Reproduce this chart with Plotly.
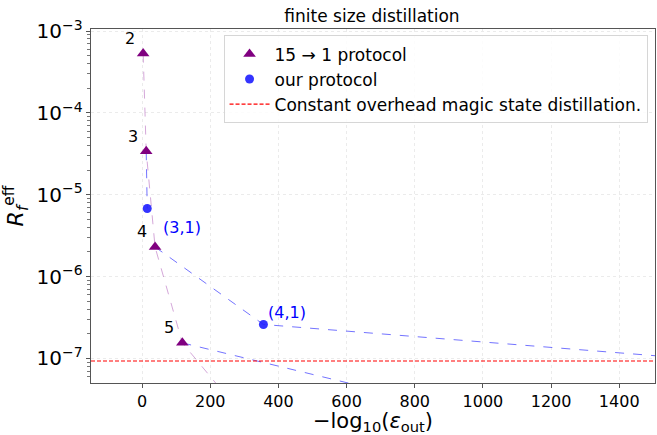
import math
import plotly.graph_objects as go

# ---- data ----
tri_levels = ["2", "3", "4", "5", "6"]
tri_x = [3, 12, 38, 118, 360]
tri_y = [5.3e-4, 3.4e-5, 2.3e-6, 1.55e-7, 9.5e-9]

our_labels = ["(3,1)", "(4,1)"]
our_x = [15, 356]
our_y = [6.8e-6, 2.6e-7]

# blue dashed connections (15->1 level  ->  our protocol -> continuation)
link_a_x = [12, 15]
link_a_y = [3.4e-5, 6.8e-6]
link_b_x = [38, 356, 2000]
link_b_y = [2.3e-6, 2.6e-7, 7.4e-8]
link_c_x = [118, 1000]
link_c_y = [1.55e-7, 2.0e-8]

const_overhead = 9.3e-8
x_range = [-150, 1505]
y_range_log = [-7.3, -2.975]

FONT = "DejaVu Sans"
PURPLE = "#800080"
BLUE = "rgba(30,30,255,0.9)"
BLUE_LINE = "rgba(40,40,255,0.65)"
PURPLE_LINE = "rgba(160,60,170,0.45)"

fig = go.Figure()

fig.add_trace(go.Scatter(x=tri_x, y=tri_y, mode="lines",
                         line=dict(color=PURPLE_LINE, width=1, dash="dash"),
                         showlegend=False, hoverinfo="skip"))
for lx, ly in [(link_a_x, link_a_y), (link_b_x, link_b_y), (link_c_x, link_c_y)]:
    fig.add_trace(go.Scatter(x=lx, y=ly, mode="lines",
                             line=dict(color=BLUE_LINE, width=1, dash="dash"),
                             showlegend=False, hoverinfo="skip"))

fig.add_trace(go.Scatter(x=tri_x, y=tri_y, mode="markers", name="15 → 1 protocol",
                         marker=dict(symbol="triangle-up", size=11, color=PURPLE)))
fig.add_trace(go.Scatter(x=our_x, y=our_y, mode="markers", name="our protocol",
                         marker=dict(symbol="circle", size=9, color=BLUE)))
fig.add_trace(go.Scatter(x=x_range, y=[const_overhead, const_overhead], mode="lines",
                         name="Constant overhead magic state distillation.",
                         line=dict(color="red", width=1.2, dash="4px,2px")))

annotations = []
for lab, x, y in zip(tri_levels, tri_x, tri_y):
    annotations.append(dict(x=x, y=math.log10(y), text=lab, showarrow=False,
                            xshift=-13, yshift=15,
                            font=dict(family=FONT, size=16, color="black")))
shifts = [(35, -19), (24, 12)]
for (lab, x, y), (dx, dy) in zip(zip(our_labels, our_x, our_y), shifts):
    annotations.append(dict(x=x, y=math.log10(y), text=lab, showarrow=False,
                            xshift=dx, yshift=dy,
                            font=dict(family=FONT, size=16, color="blue")))

fig.update_layout(
    width=657, height=435,
    margin=dict(l=91, r=2, t=29, b=52),
    paper_bgcolor="white", plot_bgcolor="white",
    font=dict(family=FONT, size=15, color="black"),
    title=dict(text="finite size distillation", x=(372 / 657), xanchor="center",
               y=1 - 16 / 435, yanchor="middle", font=dict(family=FONT, size=17)),
    legend=dict(x=0.235, y=0.982, xanchor="left", yanchor="top",
                bgcolor="rgba(255,255,255,0.85)", bordercolor="#d6d6d6", borderwidth=1,
                font=dict(size=17), itemwidth=40, tracegroupgap=0),
    annotations=annotations,
)
fig.update_xaxes(range=x_range, showline=True, mirror=True, linecolor="#555", linewidth=1,
                 ticks="outside", ticklen=4, tickcolor="#555", dtick=200, tick0=0,
                 showgrid=True, gridcolor="#ebebeb", griddash="dot", zeroline=False,
                 tickfont=dict(size=16),
                 title=dict(text="−log<sub>10</sub>(<i>ε</i><sub>out</sub>)", font=dict(size=21), standoff=5))
fig.update_yaxes(type="log", range=y_range_log, showline=True, mirror=True, linecolor="#555",
                 linewidth=1.3, ticks="outside", ticklen=4, tickcolor="#555",
                 dtick=1, exponentformat="power", showexponent="all",
                 minor=dict(ticks="outside", ticklen=3, tickcolor="#777", dtick="D1",
                            tickwidth=1, showgrid=False),
                 showgrid=True, gridcolor="#ebebeb", griddash="dot", zeroline=False,
                 tickfont=dict(size=16),
                 title=dict(text="<i>R</i><sub><i>f</i></sub><sup>eff</sup>", font=dict(size=22), standoff=6))

fig.write_html("out.html", config={"displayModeBar": False},
               post_script="document.body.style.margin='0px';document.body.style.overflow='hidden';")
